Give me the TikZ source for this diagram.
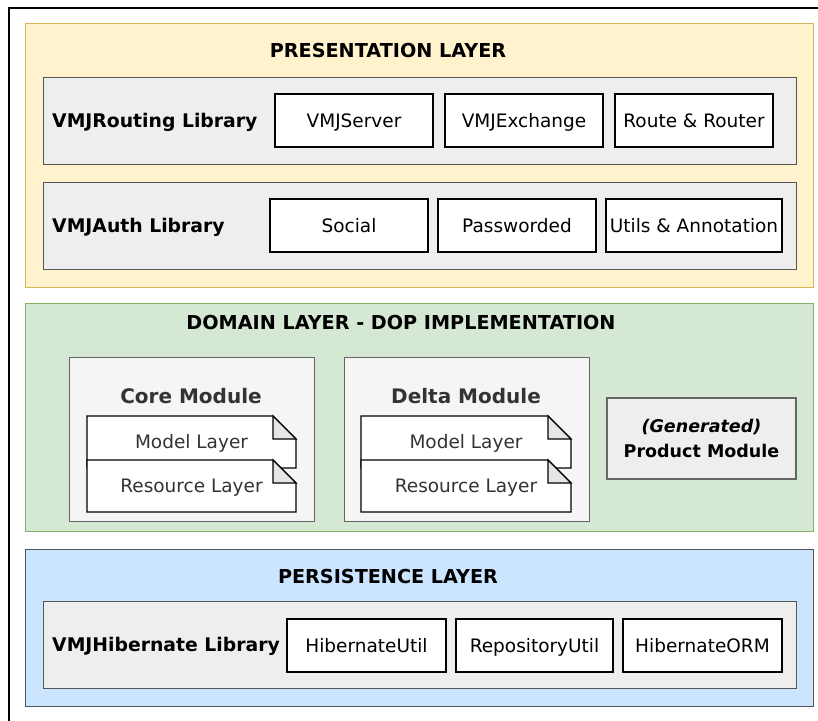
\documentclass[tikz,border=0pt]{standalone}
\usepackage{fontspec}
\setmainfont{DejaVu Sans}
\usepackage{tikz}

\definecolor{presfill}{HTML}{FFF2CC}
\definecolor{presline}{HTML}{D6B656}
\definecolor{domfill}{HTML}{D5E8D4}
\definecolor{domline}{HTML}{82B366}
\definecolor{persfill}{HTML}{CCE5FF}
\definecolor{persline}{HTML}{555555}
\definecolor{libfill}{HTML}{EEEEEE}
\definecolor{libline}{HTML}{555555}
\definecolor{modfill}{HTML}{F5F5F5}
\definecolor{modline}{HTML}{666666}
\definecolor{modtext}{HTML}{333333}
\definecolor{foldfill}{HTML}{E6E6E6}

\newcommand{\regfont}{\fontsize{18.5}{22}\selectfont}
\newcommand{\layerfont}{\fontsize{19.2}{23}\selectfont\bfseries}
\newcommand{\libfont}{\fontsize{18.8}{22}\selectfont\bfseries}
\newcommand{\modfont}{\fontsize{20}{24}\selectfont\bfseries}
\newcommand{\prodfont}{\fontsize{17.5}{25}\selectfont\bfseries}

% note shape with folded corner: x, y, width, height, name, text
\newcommand{\notebox}[6]{%
  \filldraw[notebody] (#1,#2) -- ({#1+#3-23},#2) -- ({#1+#3},{#2+23})
    -- ({#1+#3},{#2+#4}) -- (#1,{#2+#4}) -- cycle;
  \filldraw[notefold] ({#1+#3-23},#2) -- ({#1+#3-23},{#2+23}) -- ({#1+#3},{#2+23}) -- cycle;
  \node[notetext] (#5) at ({#1+#3/2},{#2+#4/2}) {#6};
}

\begin{document}
\begin{tikzpicture}[x=1pt, y=-1pt,
    frame/.style={draw=black, line width=1.6pt, anchor=north west, inner sep=0pt},
    layer/.style={line width=1.2pt, anchor=north west, inner sep=0pt},
    lib/.style={draw=libline, fill=libfill, line width=1.2pt, anchor=north west, inner sep=0pt},
    item/.style={draw=black, fill=white, line width=1.2pt, minimum height=53pt,
      inner sep=0pt, text height=13.5pt, text depth=0pt, font=\regfont},
    layertitle/.style={font=\layerfont, inner sep=0pt, text height=14pt, text depth=0pt},
    libtitle/.style={font=\libfont, anchor=west, inner sep=0pt, text height=13.7pt, text depth=0pt},
    module/.style={draw=modline, fill=modfill, line width=1.2pt, anchor=north west, inner sep=0pt},
    modtitle/.style={font=\modfont, text=modtext, inner sep=0pt, text height=14.6pt, text depth=0pt},
    notebody/.style={draw=black, fill=white, line width=1.2pt, line join=miter},
    notefold/.style={draw=black, fill=foldfill, line width=1.2pt},
    notetext/.style={font=\regfont, text=modtext, inner sep=0pt, text height=13.5pt, text depth=0pt},
    product/.style={draw=modline, fill=libfill, line width=1.2pt, inner sep=0pt,
      align=center, font=\prodfont}]
  \useasboundingbox (0,0) rectangle (818,720);
  \node[frame, minimum width=840pt, minimum height=740pt] (page) at (8,7) {};

  % presentation layer
  \node[layer, draw=presline, fill=presfill, minimum width=788pt, minimum height=264pt] (pres) at (25,23) {};
  \node[layertitle] (prestitle) at (388,50.5) {PRESENTATION LAYER};
  \node[lib, minimum width=753pt, minimum height=87pt] (routing) at (43,77) {};
  \node[libtitle] (routingtitle) at (52,120.5) {VMJRouting Library};
  \node[item, minimum width=158pt] (server) at (354,120.5) {VMJServer};
  \node[item, minimum width=158pt] (exchange) at (524,120.5) {VMJExchange};
  \node[item, minimum width=158pt] (router) at (694,120.5) {Route \& Router};
  \node[lib, minimum width=753pt, minimum height=87pt] (auth) at (43,182) {};
  \node[libtitle] (authtitle) at (52,225.5) {VMJAuth Library};
  \node[item, minimum width=158pt] (social) at (349,225.5) {Social};
  \node[item, minimum width=158pt] (passworded) at (517,225.5) {Passworded};
  \node[item, minimum width=176pt] (utils) at (694,225.5) {Utils \& Annotation};

  % domain layer
  \node[layer, draw=domline, fill=domfill, minimum width=788pt, minimum height=228pt] (domain) at (25,303) {};
  \node[layertitle] (domaintitle) at (401,322) {DOMAIN LAYER - DOP IMPLEMENTATION};
  \node[module, minimum width=245pt, minimum height=164pt] (core) at (69,357) {};
  \node[modtitle] (coretitle) at (191,396) {Core Module};
  \notebox{87}{416}{209}{52}{coremodel}{Model Layer}
  \notebox{87}{460}{209}{52}{coreres}{Resource Layer}
  \node[module, minimum width=245pt, minimum height=164pt] (delta) at (344,357) {};
  \node[modtitle] (deltatitle) at (466,396) {Delta Module};
  \notebox{361}{416}{210}{52}{deltamodel}{Model Layer}
  \notebox{361}{460}{210}{52}{deltares}{Resource Layer}
  \node[product, minimum width=189pt, minimum height=81pt] (prod) at (701.5,438.5)
    {\textit{(Generated)}\\Product Module};

  % persistence layer
  \node[layer, draw=persline, fill=persfill, minimum width=788pt, minimum height=157pt] (pers) at (25,549) {};
  \node[layertitle] (perstitle) at (388,576) {PERSISTENCE LAYER};
  \node[lib, minimum width=753pt, minimum height=87pt] (hibernate) at (43,601) {};
  \node[libtitle] (hibernatetitle) at (52,645) {VMJHibernate Library};
  \node[item, minimum width=159pt] (hutil) at (366.5,645.5) {HibernateUtil};
  \node[item, minimum width=157pt] (repo) at (534.5,645.5) {RepositoryUtil};
  \node[item, minimum width=159pt] (orm) at (702.5,645.5) {HibernateORM};
\end{tikzpicture}
\end{document}
